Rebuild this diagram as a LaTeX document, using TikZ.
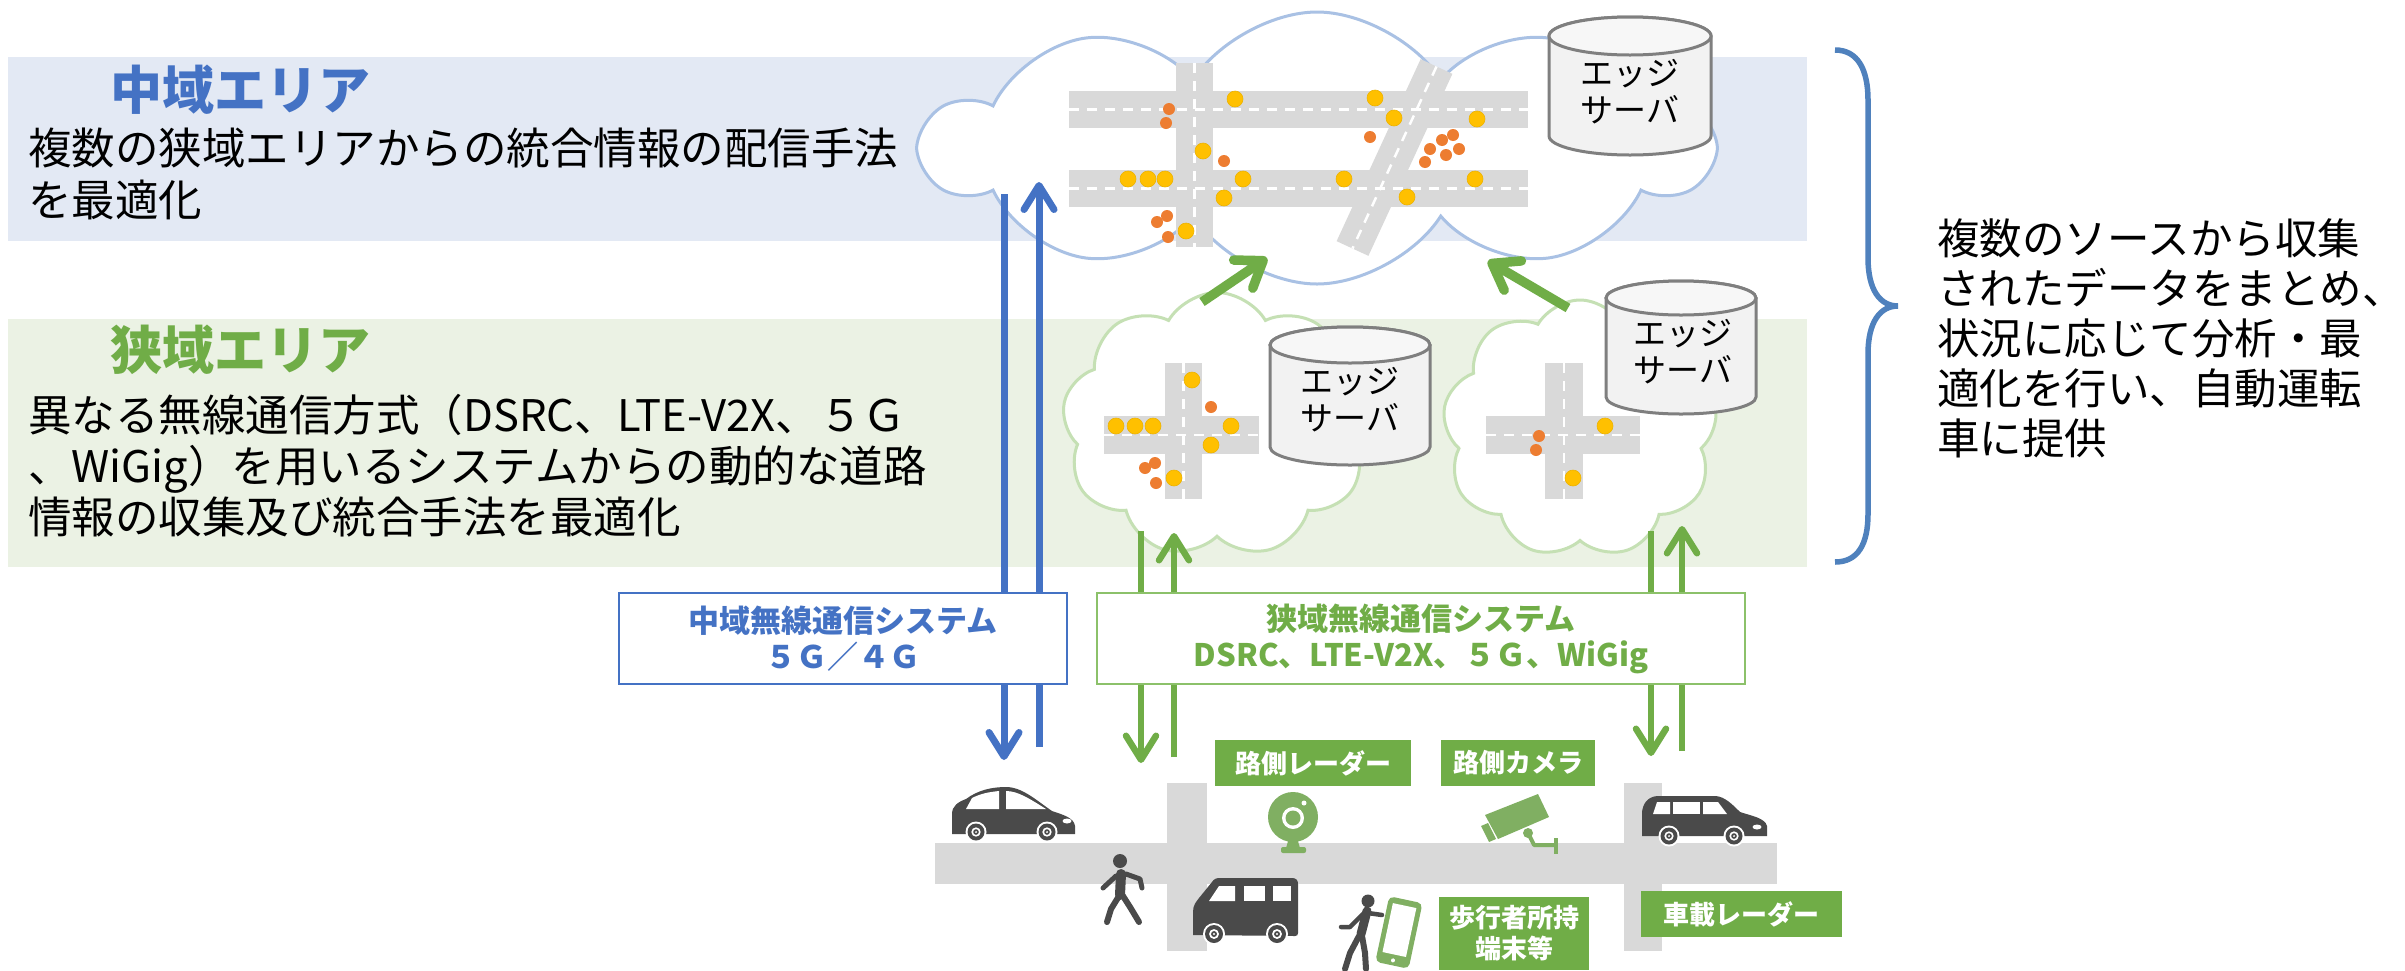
\documentclass[tikz,border=0pt]{standalone}
\usepackage{fontspec}
\newfontfamily\jpfont{Noto Sans CJK JP}
\usetikzlibrary{shapes.symbols,arrows.meta}

\definecolor{bandblue}{HTML}{E3E9F4}
\definecolor{bandgreen}{HTML}{EBF2E4}
\definecolor{accblue}{HTML}{4472C4}
\definecolor{accgreen}{HTML}{70AD47}
\definecolor{cloudblue}{HTML}{A9C1E4}
\definecolor{cloudgreen}{HTML}{C5E0B4}
\definecolor{roadgray}{HTML}{D9D9D9}
\definecolor{dotyellow}{HTML}{FFC000}
\definecolor{dotyellowedge}{HTML}{EDB200}
\definecolor{dotorange}{HTML}{ED7D31}
\definecolor{drumfill}{HTML}{F2F2F2}
\definecolor{drumtopfill}{HTML}{F7F7F7}
\definecolor{drumline}{HTML}{7F7F7F}
\definecolor{icondark}{HTML}{4A4A4A}
\definecolor{icongreen}{HTML}{80AF62}
\definecolor{bracecol}{HTML}{4F81BD}
\definecolor{boxgreen}{HTML}{8CC16A}

\tikzset{
  areatitle/.style={anchor=west, inner sep=0pt, font=\jpfont\bfseries\fontsize{52}{60}\selectfont},
  areatext/.style={anchor=west, inner sep=0pt, align=left, font=\jpfont\fontsize{43.5}{52}\selectfont},
  cloudshape/.style={cloud, cloud ignores aspect, fill=white, line width=3pt, inner sep=0pt},
  lane/.style={draw=white, line width=2.5pt, dash pattern=on 10pt off 8pt},
  ydot/.style={fill=dotyellow, draw=dotyellowedge, line width=0.6pt},
  odot/.style={fill=dotorange},
  drum/.style={fill=drumfill, draw=drumline, line width=3pt},
  drumtop/.style={fill=drumtopfill, draw=drumline, line width=3pt},
  drumtext/.style={align=center, inner sep=0pt, font=\jpfont\fontsize{33}{37}\selectfont},
  upblue/.style={draw=accblue, line width=7pt, -{Straight Barb[length=24pt,width=30pt,round]}},
  upgreen/.style={draw=accgreen, line width=6.5pt, -{Straight Barb[length=24pt,width=30pt,round]}},
  diaggreen/.style={draw=accgreen, line width=9.5pt, -{Straight Barb[length=24pt,width=34pt,round]}},
  sysbox/.style={draw=#1, line width=2pt, fill=white, text=#1, align=center, inner sep=0pt,
    font=\jpfont\bfseries\fontsize{31}{36}\selectfont},
  devlabel/.style={fill=accgreen, text=white, align=center, inner sep=0pt,
    font=\jpfont\bfseries\fontsize{26}{31}\selectfont},
  brace/.style={draw=bracecol, line width=5.5pt},
}

% drum-shaped server: centre x, top ellipse y, bottom ellipse y, x radius, y radius
\newcommand\serverdrum[5]{%
  \filldraw[drum] (#1-#4,#2) -- (#1-#4,#3)
    arc[start angle=180,end angle=360,x radius=#4,y radius=#5]
    -- (#1+#4,#2) arc[start angle=0,end angle=180,x radius=#4,y radius=#5] -- cycle;
  \filldraw[drumtop] (#1,#2) ellipse[x radius=#4,y radius=#5];
}
% car wheel: centre x, centre y, tyre radius
\newcommand\carwheel[3]{%
  \fill[white] (#1,#2) circle[radius=#3+2];
  \fill[icondark] (#1,#2) circle[radius=#3];
  \fill[white] (#1,#2) circle[radius=0.55*#3];
  \fill[icondark] (#1,#2) circle[radius=0.33*#3];
  \fill[white] (#1,#2) circle[radius=0.12*#3];
}

\begin{document}
\begin{tikzpicture}[x=1pt,y=1pt]
\useasboundingbox (0,-970) rectangle (2405,0);
\fill[white] (0,-970) rectangle (2405,0);

% ---- area bands ----
\fill[bandblue] (8,-57) rectangle (1807,-241);
\fill[bandgreen] (8,-319) rectangle (1807,-567);

\node[areatitle, text=accblue] (midtitle) at (110,-90) {中域エリア};
\node[areatext] (midtext) at (28,-174)
  {複数の狭域エリアからの統合情報の配信手法\\を最適化};
\node[areatitle, text=accgreen] (nartitle) at (110,-350) {狭域エリア};
\node[areatext, font=\jpfont\fontsize{43.5}{51}\selectfont] (nartext) at (28,-466)
  {異なる無線通信方式（DSRC、LTE-V2X、５Ｇ\\、WiGig）を用いるシステムからの動的な道路\\情報の収集及び統合手法を最適化};

% ---- middle-area cloud ----
\node[cloudshape, draw=cloudblue, cloud puffs=10, cloud puff arc=115,
      minimum width=786pt, minimum height=272pt] (midcloud) at (1317,-148) {};
\fill[roadgray] (1069,-91) rectangle (1528,-128);
\fill[roadgray] (1069,-170) rectangle (1528,-207);
\fill[roadgray] (1176,-63) rectangle (1213,-247);
\draw[roadgray, line width=35pt] (1436.5,-66.5) -- (1352.5,-248.5);
\draw[lane] (1069,-109.5) -- (1528,-109.5);
\draw[lane] (1069,-188.5) -- (1528,-188.5);
\draw[lane] (1194.5,-63) -- (1194.5,-247);
\draw[lane] (1436.5,-66.5) -- (1352.5,-248.5);
\foreach \x/\y in {1235/99,1375/98,1394/118,1477/119,1203/151,1128/179,1148/179,1165/179,
                   1243/179,1344/179,1475/179,1224/198,1407/197,1186/231}
  \fill[ydot] (\x,-\y) circle[radius=8];
\foreach \x/\y in {1169/109,1166/123,1224/161,1370/137,1442/140,1453/135,1430/149,1459/149,
                   1446/155,1425/162,1167/216,1157/222,1168/237}
  \fill[odot] (\x,-\y) circle[radius=6];
\serverdrum{1630}{-36}{-136}{81}{19}
\node[drumtext] (srvmid) at (1630,-92) {エッジ\\サーバ};

% ---- narrow-area clouds ----
\node[cloudshape, draw=cloudgreen, cloud puffs=9, cloud puff arc=120,
      minimum width=310pt, minimum height=265pt] (lcloud) at (1217,-425) {};
\node[cloudshape, draw=cloudgreen, cloud puffs=9, cloud puff arc=120,
      minimum width=275pt, minimum height=258pt] (rcloud) at (1580,-429) {};

% left crossroads
\fill[roadgray] (1165,-363) rectangle (1202,-499);
\fill[roadgray] (1104,-416) rectangle (1259,-454);
\draw[lane] (1104,-435) -- (1259,-435);
\draw[lane] (1183.5,-363) -- (1183.5,-499);
\foreach \x/\y in {1192/380,1116/426,1135/426,1153/426,1231/426,1211/445,1174/478}
  \fill[ydot] (\x,-\y) circle[radius=8];
\foreach \x/\y in {1211/407,1155/463,1145/468,1156/483}
  \fill[odot] (\x,-\y) circle[radius=6];
\serverdrum{1350}{-345}{-447}{80}{18}
\node[drumtext] (srvleft) at (1350,-400) {エッジ\\サーバ};

% right crossroads
\fill[roadgray] (1545,-363) rectangle (1583,-499);
\fill[roadgray] (1486,-416) rectangle (1640,-454);
\draw[lane] (1486,-435) -- (1640,-435);
\draw[lane] (1564,-363) -- (1564,-499);
\foreach \x/\y in {1605/426,1573/478}
  \fill[ydot] (\x,-\y) circle[radius=8];
\foreach \x/\y in {1539/436,1536/450}
  \fill[odot] (\x,-\y) circle[radius=6];
\serverdrum{1681}{-298}{-397}{75}{17}
\node[drumtext] (srvright) at (1683,-352) {エッジ\\サーバ};

% ---- link end points ----
\coordinate (bdownA) at (1004,-194);  \coordinate (bdownB) at (1004,-760);
\coordinate (bupA)   at (1039,-747);  \coordinate (bupB)   at (1039,-182);
\coordinate (gldownA) at (1141,-531); \coordinate (gldownB) at (1141,-763);
\coordinate (glupA)   at (1174,-757); \coordinate (glupB)   at (1174,-533);
\coordinate (grdownA) at (1651,-531); \coordinate (grdownB) at (1651,-756);
\coordinate (grupA)   at (1682,-751); \coordinate (grupB)   at (1682,-526);
\coordinate (ldiagA) at (1202,-302);  \coordinate (ldiagB) at (1267,-258);
\coordinate (rdiagA) at (1568,-308);  \coordinate (rdiagB) at (1488,-261);

\draw[upblue] (bdownA) -- (bdownB);
\draw[upblue] (bupA) -- (bupB);
\draw[upgreen] (gldownA) -- (gldownB);
\draw[upgreen] (glupA) -- (glupB);
\draw[upgreen] (grdownA) -- (grdownB);
\draw[upgreen] (grupA) -- (grupB);
\draw[diaggreen] (ldiagA) -- (ldiagB);
\draw[diaggreen] (rdiagA) -- (rdiagB);

% ---- wireless systems ----
\node[sysbox=accblue, minimum width=448pt, minimum height=91pt] (midsys) at (843,-638.5)
  {中域無線通信システム\\５Ｇ／４Ｇ};
\node[sysbox=accgreen, draw=boxgreen, minimum width=648pt, minimum height=91pt] (narsys) at (1421,-638.5)
  {狭域無線通信システム\\DSRC、LTE-V2X、５Ｇ、WiGig};

% ---- street scene ----
\fill[roadgray] (935,-843) rectangle (1777,-884);
\fill[roadgray] (1167,-783) rectangle (1207,-951);
\fill[roadgray] (1624,-783) rectangle (1662,-951);

% sedan
\fill[icondark] (952,-834) -- (952,-814) .. controls (952,-806) and (958,-802) .. (966,-799)
  .. controls (978,-790) and (992,-787) .. (1006,-787) .. controls (1022,-787) and (1036,-800) .. (1052,-811)
  .. controls (1064,-815) and (1074,-818) .. (1075,-826) -- (1075,-834) -- cycle;
\fill[white] (966,-809) -- (972,-798) .. controls (982,-793) and (990,-792) .. (999,-791) -- (999,-809) -- cycle;
\fill[white] (1006,-791) .. controls (1018,-791) and (1030,-799) .. (1046,-809) -- (1006,-809) -- cycle;
\fill[white] (1067,-821) ellipse[x radius=4.5, y radius=2.5];
\carwheel{976}{-832}{8.5}
\carwheel{1047}{-832}{8.5}

% walking pedestrian
\fill[icondark] (1120,-861) circle[radius=7];
\draw[icondark, line width=10pt, line cap=round] (1121,-874) -- (1120,-895);
\draw[icondark, line width=5pt, line cap=round, line join=round] (1116,-876) -- (1103,-888);
\draw[icondark, line width=5pt, line cap=round, line join=round] (1126,-874) -- (1140,-879) -- (1142,-888);
\draw[icondark, line width=6pt, line cap=round, line join=round] (1119,-896) -- (1111,-909) -- (1107,-922);
\draw[icondark, line width=6pt, line cap=round, line join=round] (1123,-896) -- (1130,-907) -- (1139,-922);

% van
\fill[icondark] (1193,-935) -- (1193,-912) .. controls (1193,-905) and (1196,-902) .. (1199,-898)
  -- (1212,-882) .. controls (1214,-879) and (1216,-878) .. (1220,-878) -- (1292,-878)
  .. controls (1296,-878) and (1298,-880) .. (1298,-884) -- (1298,-933)
  .. controls (1298,-935) and (1297,-936) .. (1295,-936) -- cycle;
\fill[white] (1209,-901) -- (1219,-886) -- (1235,-886) -- (1235,-901) -- cycle;
\fill[white] (1244,-886) rectangle (1265,-901);
\fill[white] (1273,-886) rectangle (1291,-901);
\carwheel{1214}{-934}{9}
\carwheel{1277}{-934}{9}

% roadside radar
\fill[icongreen] (1289,-838) -- (1297,-838) -- (1300,-848) -- (1286,-848) -- cycle;
\fill[icongreen, rounded corners=2pt] (1281,-847) rectangle (1306,-853);
\fill[icongreen] (1293,-817) circle[radius=25];
\fill[white] (1293,-818) circle[radius=11];
\fill[icongreen] (1293,-818) circle[radius=7.5];
\fill[white] (1304,-803) circle[radius=2.5];

% roadside camera
\fill[icongreen] (1485,-815) -- (1538,-794) -- (1549,-817) -- (1498,-839) -- cycle;
\fill[icongreen] (1481,-826) -- (1488,-823) -- (1496,-839) -- (1489,-842) -- cycle;
\draw[icongreen, line width=4pt, line join=round] (1528,-833) -- (1534,-845) -- (1554,-845);
\fill[icongreen] (1528,-833) circle[radius=5];
\fill[icongreen] (1554,-838) rectangle (1558,-854);

% pedestrian with handheld terminal
\fill[icondark] (1368,-901) circle[radius=6.5];
\draw[icondark, line width=9pt, line cap=round] (1367,-911) -- (1361,-934);
\draw[icondark, line width=4.5pt, line cap=round, line join=round] (1368,-913) -- (1382,-915);
\draw[icondark, line width=4.5pt, line cap=round, line join=round] (1363,-914) -- (1350,-927) -- (1341,-927);
\draw[icondark, line width=6pt, line cap=round, line join=round] (1359,-936) -- (1350,-953) -- (1345,-969);
\draw[icondark, line width=6pt, line cap=round, line join=round] (1362,-936) -- (1365,-953) -- (1366,-969);
\begin{scope}[shift={(1399,-932)}, rotate=-12]
  \fill[icongreen, rounded corners=5pt] (-17,-34) rectangle (17,33);
  \fill[white] (-12,-23) rectangle (12,27);
  \fill[white] (0,-29) circle[radius=2];
\end{scope}

% wagon
\fill[icondark] (1642,-836) -- (1642,-812) .. controls (1643,-804) and (1647,-797) .. (1657,-796)
  -- (1716,-796) .. controls (1725,-797) and (1732,-804) .. (1740,-812)
  .. controls (1752,-816) and (1765,-818) .. (1767,-826) -- (1767,-836) -- cycle;
\fill[white] (1653,-814) -- (1657,-802) -- (1670,-802) -- (1670,-814) -- cycle;
\fill[white] (1673,-802) rectangle (1700,-814);
\fill[white] (1703,-802) -- (1718,-802) -- (1727,-814) -- (1703,-814) -- cycle;
\fill[white] (1757,-827) ellipse[x radius=4.5, y radius=2.5];
\carwheel{1669}{-836}{8.5}
\carwheel{1734}{-836}{8.5}

% device labels
\node[devlabel, minimum width=196pt, minimum height=46pt] (radarlbl) at (1313,-763) {路側レーダー};
\node[devlabel, minimum width=154pt, minimum height=46pt] (cameralbl) at (1518,-763) {路側カメラ};
\node[devlabel, minimum width=150pt, minimum height=73pt] (terminallbl) at (1514,-933.5) {歩行者所持\\端末等};
\node[devlabel, minimum width=201pt, minimum height=46pt] (carradarlbl) at (1741.5,-914) {車載レーダー};

% ---- summary with brace ----
\draw[brace] (1835,-50) .. controls (1858,-50) and (1868,-70) .. (1868,-100) -- (1868,-258)
  .. controls (1868,-290) and (1880,-306) .. (1898,-306)
  .. controls (1880,-306) and (1868,-322) .. (1868,-354) -- (1868,-514)
  .. controls (1868,-544) and (1858,-562) .. (1835,-562);
\node[anchor=west, inner sep=0pt, align=left, font=\jpfont\fontsize{42.5}{50}\selectfont] (summary) at (1937,-338)
  {複数のソースから収集\\されたデータをまとめ、\\状況に応じて分析・最\\適化を行い、自動運転\\車に提供};
\end{tikzpicture}
\end{document}
